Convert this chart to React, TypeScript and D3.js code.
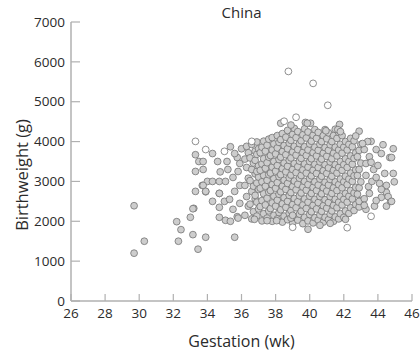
import React from "react";
import * as d3 from "d3";

const xTicks = [26, 28, 30, 32, 34, 36, 38, 40, 42, 44, 46];
const yTicks = [0, 1000, 2000, 3000, 4000, 5000, 6000, 7000];

// sparse preterm / left-side points [gestation wk, birthweight g]
const leftPoints: [number, number][] = [
  [29.7, 2390], [30.3, 1500], [29.7, 1200], [32.2, 1990], [32.45, 1790], [32.3, 1500],
  [33.0, 2100], [33.2, 2325], [33.15, 1665], [33.45, 1300], [33.9, 1600], [33.3, 2750],
  [33.9, 2740], [33.7, 2900], [34.3, 2500], [34.7, 2700], [34.7, 2100], [35.06, 2025],
  [35.35, 2000], [35.6, 1600], [35.75, 2115], [35.35, 3870], [33.3, 3670], [33.5, 3500],
  [33.75, 3500], [33.3, 3250], [33.75, 3300], [34.3, 3700], [34.6, 3500], [35.15, 3500],
  [35.75, 3600], [35.2, 3300], [34.75, 3240], [34.0, 3000], [34.3, 3000], [33.75, 2900],
  [34.7, 3000], [35.06, 3000], [33.9, 2750], [34.7, 2700], [35.0, 2500], [35.3, 2550],
  [33.15, 2315], [34.7, 2350], [35.8, 2080], [35.5, 2300], [35.9, 2450], [35.6, 2750],
  [35.9, 2900], [35.5, 3100], [35.8, 3250], [35.9, 3450], [35.6, 3700], [36.0, 3820],
];

// sparse right-side points
const rightPoints: [number, number][] = [
  [43.3, 2300], [43.8, 2380], [44.5, 2380], [44.75, 2500], [44.5, 2725], [44.5, 2900],
  [44.96, 2990], [43.6, 4005], [44.3, 3920], [44.9, 3820], [43.9, 3800], [44.2, 3700],
  [44.7, 3600], [44.8, 3600], [44.9, 3200], [44.4, 3200], [44.2, 2600], [44.6, 2620],
  [44.8, 2500], [43.75, 3300], [43.45, 2870], [43.65, 3000], [43.9, 3100], [42.9, 2500],
  [43.2, 2565], [43.3, 3450], [43.5, 3620], [43.2, 3800], [43.4, 4000], [43.6, 3480],
  [43.3, 3150], [43.5, 2700], [44.1, 2950], [44.0, 3400], [43.1, 3950], [44.2, 2800],
  [43.9, 2520], [43.2, 2400], [39.75, 4480], [40.05, 4460], [41.75, 4430], [42.9, 4260],
  [42.7, 4140], [40.95, 4270], [41.65, 4300], [41.8, 4250], [38.3, 4460], [38.9, 4415],
  [39.86, 4460], [39.9, 1800], [36.76, 2050], [37.5, 2015], [38.06, 2015], [38.9, 2080],
  [39.0, 2150], [40.6, 1900], [41.2, 1950], [42.1, 2050],
];

// dense core of term births
const corePoints: [number, number][] = [
  [36.2, 2150], [36.4, 2380], [36.3, 2620], [36.2, 2900], [36.4, 3080], [36.3, 3350], [36.2, 3560], [36.4, 3720], [36.3, 3880],
  [36.6, 2060], [36.7, 2240], [36.5, 2430], [36.8, 2560], [36.6, 2750], [36.7, 2880], [36.5, 3020], [36.8, 3190], [36.6, 3300], [36.7, 3460], [36.5, 3590], [36.8, 3760], [36.6, 3930],
  [36.9, 2130], [37.0, 2310], [36.9, 2480], [36.8, 2650], [37.0, 2800], [36.9, 2960], [37.0, 3110], [36.9, 3250], [37.0, 3400], [36.8, 3530], [36.9, 3680], [37.0, 3820], [36.9, 3990],
  [37.2, 2010], [37.3, 2190], [37.1, 2370], [37.2, 2520], [37.3, 2690], [37.1, 2830], [37.2, 2990], [37.3, 3150], [37.1, 3280], [37.2, 3440], [37.3, 3570], [37.1, 3720], [37.2, 3860], [37.3, 4010],
  [37.5, 2080], [37.6, 2260], [37.4, 2410], [37.5, 2580], [37.6, 2730], [37.4, 2880], [37.5, 3030], [37.6, 3170], [37.4, 3330], [37.5, 3470], [37.6, 3610], [37.4, 3760], [37.5, 3910], [37.6, 4060],
  [37.8, 2000], [37.9, 2150], [37.7, 2320], [37.8, 2460], [37.9, 2630], [37.7, 2770], [37.8, 2920], [37.9, 3070], [37.7, 3210], [37.8, 3360], [37.9, 3500], [37.7, 3650], [37.8, 3790], [37.9, 3940], [37.8, 4100],
  [38.1, 2060], [38.2, 2220], [38.0, 2380], [38.1, 2530], [38.2, 2680], [38.0, 2830], [38.1, 2970], [38.2, 3120], [38.0, 3260], [38.1, 3400], [38.2, 3550], [38.0, 3690], [38.1, 3840], [38.2, 3980], [38.1, 4150],
  [38.4, 1980], [38.5, 2130], [38.3, 2290], [38.4, 2440], [38.5, 2590], [38.3, 2740], [38.4, 2880], [38.5, 3030], [38.3, 3170], [38.4, 3320], [38.5, 3460], [38.3, 3610], [38.4, 3750], [38.5, 3900], [38.3, 4050], [38.4, 4200],
  [38.7, 2040], [38.8, 2200], [38.6, 2350], [38.7, 2500], [38.8, 2650], [38.6, 2800], [38.7, 2950], [38.8, 3090], [38.6, 3240], [38.7, 3380], [38.8, 3530], [38.6, 3670], [38.7, 3820], [38.8, 3960], [38.6, 4110], [38.7, 4280],
  [39.0, 1950], [39.1, 2110], [38.9, 2270], [39.0, 2420], [39.1, 2570], [38.9, 2720], [39.0, 2870], [39.1, 3010], [38.9, 3160], [39.0, 3300], [39.1, 3450], [38.9, 3590], [39.0, 3740], [39.1, 3880], [38.9, 4030], [39.0, 4180], [39.1, 4330],
  [39.3, 2030], [39.4, 2180], [39.2, 2340], [39.3, 2490], [39.4, 2640], [39.2, 2790], [39.3, 2930], [39.4, 3080], [39.2, 3220], [39.3, 3370], [39.4, 3510], [39.2, 3660], [39.3, 3800], [39.4, 3950], [39.2, 4100], [39.3, 4250],
  [39.6, 1940], [39.7, 2100], [39.5, 2250], [39.6, 2410], [39.7, 2560], [39.5, 2710], [39.6, 2860], [39.7, 3000], [39.5, 3150], [39.6, 3290], [39.7, 3440], [39.5, 3580], [39.6, 3730], [39.7, 3870], [39.5, 4020], [39.6, 4170], [39.7, 4320],
  [39.9, 2010], [40.0, 2170], [39.8, 2320], [39.9, 2480], [40.0, 2630], [39.8, 2780], [39.9, 2920], [40.0, 3070], [39.8, 3210], [39.9, 3360], [40.0, 3500], [39.8, 3650], [39.9, 3790], [40.0, 3940], [39.8, 4090], [39.9, 4240],
  [40.2, 1960], [40.3, 2090], [40.1, 2240], [40.2, 2400], [40.3, 2550], [40.1, 2700], [40.2, 2850], [40.3, 2990], [40.1, 3140], [40.2, 3280], [40.3, 3430], [40.1, 3570], [40.2, 3720], [40.3, 3860], [40.1, 4010], [40.2, 4160], [40.3, 4300],
  [40.5, 2030], [40.6, 2160], [40.4, 2310], [40.5, 2470], [40.6, 2620], [40.4, 2770], [40.5, 2910], [40.6, 3060], [40.4, 3200], [40.5, 3350], [40.6, 3490], [40.4, 3640], [40.5, 3780], [40.6, 3930], [40.4, 4080], [40.5, 4230],
  [40.8, 1980], [40.9, 2100], [40.7, 2250], [40.8, 2390], [40.9, 2540], [40.7, 2690], [40.8, 2840], [40.9, 2980], [40.7, 3130], [40.8, 3270], [40.9, 3420], [40.7, 3560], [40.8, 3710], [40.9, 3850], [40.7, 4000], [40.8, 4150], [40.9, 4300],
  [41.1, 2040], [41.2, 2180], [41.0, 2330], [41.1, 2470], [41.2, 2620], [41.0, 2760], [41.1, 2910], [41.2, 3050], [41.0, 3200], [41.1, 3340], [41.2, 3490], [41.0, 3630], [41.1, 3780], [41.2, 3920], [41.0, 4070], [41.1, 4220],
  [41.4, 2000], [41.5, 2110], [41.3, 2260], [41.4, 2400], [41.5, 2550], [41.3, 2700], [41.4, 2840], [41.5, 2990], [41.3, 3130], [41.4, 3280], [41.5, 3420], [41.3, 3570], [41.4, 3710], [41.5, 3860], [41.3, 4000], [41.4, 4150], [41.5, 4310],
  [41.7, 2060], [41.8, 2190], [41.6, 2340], [41.7, 2480], [41.8, 2630], [41.6, 2770], [41.7, 2920], [41.8, 3060], [41.6, 3210], [41.7, 3350], [41.8, 3500], [41.6, 3640], [41.7, 3790], [41.8, 3930], [41.6, 4080], [41.7, 4230],
  [42.0, 2100], [42.1, 2260], [41.9, 2410], [42.0, 2550], [42.1, 2700], [41.9, 2840], [42.0, 2990], [42.1, 3130], [41.9, 3280], [42.0, 3420], [42.1, 3570], [41.9, 3710], [42.0, 3860], [42.1, 4000], [41.9, 4150],
  [42.3, 2200], [42.4, 2340], [42.2, 2480], [42.3, 2630], [42.4, 2770], [42.2, 2920], [42.3, 3060], [42.4, 3210], [42.2, 3350], [42.3, 3500], [42.4, 3640], [42.2, 3790], [42.3, 3930], [42.4, 4080],
  [42.6, 2270], [42.7, 2420], [42.5, 2560], [42.6, 2710], [42.7, 2850], [42.5, 3000], [42.6, 3140], [42.7, 3290], [42.5, 3430], [42.6, 3580], [42.7, 3720], [42.5, 3870], [42.6, 4020],
  [42.9, 2360], [43.0, 2520], [42.8, 2680], [42.9, 2840], [43.0, 2990], [42.8, 3150], [42.9, 3300], [43.0, 3460], [42.8, 3620], [42.9, 3780], [43.0, 3930],
];

// open circles (outliers)
const openPoints: [number, number][] = [
  [38.75, 5760], [40.2, 5460], [41.06, 4910], [39.2, 4610], [38.5, 4510], [33.3, 4005],
  [33.9, 3800], [35.0, 3755], [36.6, 4005], [42.2, 1840], [39.0, 1850], [43.6, 2125],
];

const W = 420;
const H = 360;
const m = { left: 71, right: 8, top: 22, bottom: 59 };

export default function App() {
  const x = d3.scaleLinear().domain([26, 46]).range([m.left, W - m.right]);
  const y = d3.scaleLinear().domain([0, 7000]).range([H - m.bottom, m.top]);
  const axisColor = "#b0b0b0";
  const textColor = "#2b2b2b";
  const font = "'Open Sans', 'DejaVu Sans', sans-serif";
  const filled = [...leftPoints, ...corePoints, ...rightPoints];
  const r = 3.4;
  return (
    <svg width={W} height={H} style={{ position: "absolute", left: 0, top: 0 }} fontFamily={font}>
      <rect width={W} height={H} fill="#fff" />
      <text x={(x(26) + x(46)) / 2} y={18} textAnchor="middle" fontSize={15} fill={textColor}>China</text>
      {filled.map((p, i) => (
        <circle key={"f" + i} cx={x(p[0])} cy={y(p[1])} r={r} fill="#cdcdcd" stroke="#747474" strokeWidth={0.8} />
      ))}
      {openPoints.map((p, i) => (
        <circle key={"o" + i} cx={x(p[0])} cy={y(p[1])} r={r} fill="#fff" stroke="#747474" strokeWidth={0.8} />
      ))}
      <line x1={x(26)} x2={x(46)} y1={y(0)} y2={y(0)} stroke={axisColor} strokeWidth={1.5} />
      <line x1={x(26)} x2={x(26)} y1={y(0)} y2={y(7000)} stroke={axisColor} strokeWidth={1.5} />
      {xTicks.map((t) => (
        <g key={"xt" + t}>
          <line x1={x(t)} x2={x(t)} y1={y(0)} y2={y(0) - 7} stroke={axisColor} strokeWidth={1.2} />
          <text x={x(t)} y={318} textAnchor="middle" fontSize={13.5} fill={textColor}>{t}</text>
        </g>
      ))}
      {yTicks.map((t) => (
        <g key={"yt" + t}>
          <line x1={x(26)} x2={x(26) + 9} y1={y(t)} y2={y(t)} stroke={axisColor} strokeWidth={1.2} />
          <text x={65} y={y(t)} dy="0.35em" textAnchor="end" fontSize={13.5} fill={textColor}>{t}</text>
        </g>
      ))}
      <text x={(x(26) + x(46)) / 2} y={347} textAnchor="middle" fontSize={16} fill={textColor}>Gestation (wk)</text>
      <text transform={`translate(28,175) rotate(-90)`} textAnchor="middle" fontSize={16.5} fill={textColor}>Birthweight (g)</text>
    </svg>
  );
}
